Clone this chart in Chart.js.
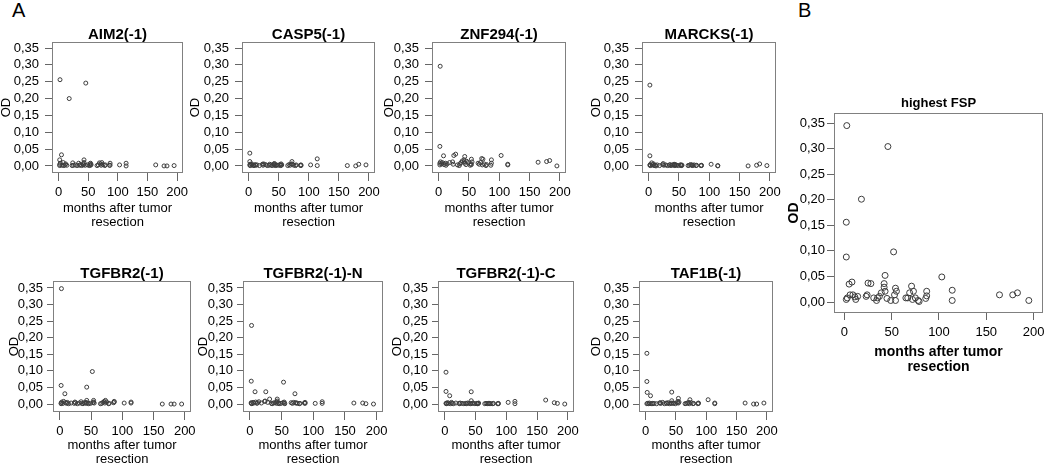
<!DOCTYPE html>
<html>
<head>
<meta charset="utf-8">
<script src="https://cdn.jsdelivr.net/npm/chart.js@4.4.0/dist/chart.umd.min.js"></script>
<style>
  html, body { margin: 0; padding: 0; background: #fff; overflow: hidden; }
  #wrap { position: relative; width: 1050px; height: 469px; font-family: "Liberation Sans", Arial, sans-serif; }
  #wrap canvas { position: absolute; }
  .lab { position: absolute; font-size: 20px; line-height: 1; color: #000; }
</style>
</head>
<body>
<div id="wrap">
  <div class="lab" style="left:12px;top:0px">A</div>
  <div class="lab" style="left:798px;top:0px">B</div>
</div>
<script>
// months after resection, one per patient (same order in every panel)
const months = [2, 2, 2, 2.5, 3, 5, 6, 8, 9, 11,
  12, 14, 18, 23, 24, 25, 28, 31, 34, 35,
  37, 39, 42, 42, 43, 43, 45, 46, 49, 52,
  53, 54, 54, 55, 65, 67, 69, 71, 72, 73,
  75, 78, 79, 86, 87, 87, 103, 114, 114, 164,
  178, 183, 195];

const aim2 = [0.018, 0.004, 0.001, 0.256, 0.008, 0.033, 0.002, 0.010, 0.001, 0.003,
  0.006, 0.002, 0.200, 0.001, 0.009, 0.002, 0.003, 0.001, 0.008, 0.002,
  0.004, 0.001, 0.006, 0.003, 0.018, 0.010, 0.002, 0.246, 0.003, 0.001,
  0.006, 0.008, 0.002, 0.004, 0.001, 0.003, 0.009, 0.006, 0.002, 0.010,
  0.004, 0.001, 0.003, 0.002, 0.008, 0.002, 0.003, 0.008, 0.000, 0.003,
  0.000, 0.000, 0.001];

const casp5 = [0.038, 0.013, 0.002, 0.005, 0.001, 0.006, 0.003, 0.002, 0.001, 0.004,
  0.002, 0.003, 0.001, 0.005, 0.002, 0.006, 0.004, 0.001, 0.002, 0.005,
  0.003, 0.001, 0.004, 0.006, 0.002, 0.007, 0.001, 0.003, 0.002, 0.004,
  0.001, 0.006, 0.002, 0.003, 0.001, 0.004, 0.002, 0.006, 0.013, 0.005,
  0.002, 0.001, 0.003, 0.002, 0.001, 0.003, 0.003, 0.021, 0.001, 0.001,
  0.000, 0.005, 0.003];

const znf294 = [0.058, 0.008, 0.003, 0.296, 0.012, 0.006, 0.010, 0.030, 0.004, 0.008,
  0.002, 0.006, 0.010, 0.012, 0.005, 0.031, 0.035, 0.003, 0.001, 0.006,
  0.010, 0.015, 0.012, 0.018, 0.028, 0.008, 0.004, 0.014, 0.010, 0.002,
  0.006, 0.020, 0.004, 0.012, 0.008, 0.005, 0.010, 0.022, 0.003, 0.020,
  0.006, 0.001, 0.004, 0.002, 0.018, 0.008, 0.031, 0.005, 0.003, 0.011,
  0.013, 0.016, 0.000];

const marcks = [0.240, 0.030, 0.002, 0.004, 0.001, 0.009, 0.003, 0.006, 0.001, 0.002,
  0.000, 0.003, 0.001, 0.004, 0.007, 0.002, 0.003, 0.001, 0.002, 0.004,
  0.001, 0.003, 0.005, 0.002, 0.004, 0.001, 0.003, 0.002, 0.001, 0.003,
  0.002, 0.001, 0.003, 0.002, 0.001, 0.002, 0.004, 0.003, 0.001, 0.002,
  0.003, 0.001, 0.002, 0.001, 0.002, 0.001, 0.005, 0.001, 0.000, 0.000,
  0.002, 0.006, 0.001];

const tgfbr2 = [0.056, 0.003, 0.001, 0.348, 0.006, 0.002, 0.008, 0.031, 0.004, 0.002,
  0.005, 0.001, 0.003, 0.002, 0.006, 0.004, 0.001, 0.003, 0.007, 0.002,
  0.001, 0.004, 0.005, 0.002, 0.051, 0.011, 0.003, 0.001, 0.002, 0.098,
  0.004, 0.006, 0.011, 0.003, 0.001, 0.002, 0.005, 0.008, 0.003, 0.011,
  0.006, 0.001, 0.002, 0.004, 0.006, 0.008, 0.003, 0.006, 0.003, 0.000,
  0.000, 0.000, 0.000];

const tgfbr2N = [0.069, 0.002, 0.004, 0.237, 0.001, 0.005, 0.003, 0.037, 0.006, 0.002,
  0.004, 0.007, 0.003, 0.008, 0.009, 0.037, 0.005, 0.015, 0.002, 0.001,
  0.003, 0.004, 0.006, 0.002, 0.015, 0.009, 0.003, 0.001, 0.002, 0.004,
  0.066, 0.006, 0.003, 0.001, 0.004, 0.002, 0.005, 0.031, 0.003, 0.004,
  0.002, 0.001, 0.002, 0.003, 0.005, 0.002, 0.002, 0.007, 0.002, 0.003,
  0.003, 0.001, 0.000];

const tgfbr2C = [0.096, 0.038, 0.002, 0.001, 0.003, 0.004, 0.002, 0.025, 0.001, 0.005,
  0.002, 0.001, 0.003, 0.002, 0.001, 0.003, 0.002, 0.001, 0.002, 0.001,
  0.003, 0.002, 0.001, 0.002, 0.037, 0.010, 0.002, 0.003, 0.001, 0.002,
  0.001, 0.002, 0.001, 0.003, 0.001, 0.002, 0.001, 0.002, 0.001, 0.002,
  0.001, 0.001, 0.002, 0.001, 0.002, 0.001, 0.005, 0.008, 0.001, 0.012,
  0.004, 0.002, 0.000];

const taf1b = [0.153, 0.068, 0.001, 0.035, 0.002, 0.001, 0.003, 0.025, 0.001, 0.002,
  0.001, 0.002, 0.001, 0.003, 0.004, 0.002, 0.005, 0.001, 0.003, 0.002,
  0.004, 0.001, 0.003, 0.002, 0.036, 0.010, 0.003, 0.002, 0.001, 0.004,
  0.008, 0.017, 0.003, 0.006, 0.001, 0.002, 0.003, 0.005, 0.001, 0.013,
  0.004, 0.001, 0.002, 0.001, 0.003, 0.002, 0.013, 0.003, 0.001, 0.003,
  0.000, 0.000, 0.003];

const highestFSP = [0.156, 0.088, 0.005, 0.345, 0.008, 0.035, 0.014, 0.039, 0.014, 0.010,
  0.005, 0.011, 0.201, 0.011, 0.014, 0.037, 0.036, 0.008, 0.003, 0.008,
  0.011, 0.018, 0.036, 0.029, 0.052, 0.021, 0.007, 0.304, 0.003, 0.098,
  0.014, 0.027, 0.003, 0.021, 0.008, 0.008, 0.018, 0.031, 0.005, 0.021,
  0.008, 0.003, 0.001, 0.007, 0.021, 0.012, 0.049, 0.023, 0.003, 0.014,
  0.014, 0.018, 0.003];

const xTicks = [0, 50, 100, 150, 200];
const yTicks = [0, 0.05, 0.10, 0.15, 0.20, 0.25, 0.30, 0.35];

const F = '"Liberation Sans", Arial, sans-serif';
Chart.defaults.font.family = F;

// grey frame round the plot area, like the SPSS output
const frame = {
  id: 'frame',
  beforeDatasetsDraw(chart) {
    const { ctx, chartArea: a } = chart;
    ctx.save();
    ctx.strokeStyle = '#808080';
    ctx.lineWidth = 1;
    ctx.strokeRect(Math.round(a.left) + 0.5, Math.round(a.top) + 0.5,
      Math.round(a.width) - 1, Math.round(a.height) - 1);
    ctx.restore();
  }
};

const row1 = { titleSize: 15, titleGap: 0, xH: 56, xTl: 8, xPad: 4, yTl: 7, yPad: 6,
  axSize: 13, axBold: false, axLH: 14 / 13, padR: 12, yMin: -0.021, yMax: 0.368, r: 2 };
const row2 = Object.assign({}, row1, { xH: 54, yTl: 6, yPad: 4, yMin: -0.024, yMax: 0.371 });
const big = { titleSize: 13, titleGap: 3, xH: 62, xTl: 7, xPad: 5, yTl: 7, yPad: 2,
  axSize: 14, axBold: true, axLH: 15 / 14, padR: 7, yMin: -0.0215, yMax: 0.3696, r: 3 };

const panels = [
  { title: 'AIM2(-1)', od: aim2, cl: 0, box: [52, 42, 131, 131], s: row1 },
  { title: 'CASP5(-1)', od: casp5, cl: 189, box: [242, 42, 133, 131], s: row1 },
  { title: 'ZNF294(-1)', od: znf294, cl: 383, box: [432, 42, 134, 131], s: row1 },
  { title: 'MARCKS(-1)', od: marcks, cl: 590, box: [642, 42, 134, 131], s: row1 },
  { title: 'TGFBR2(-1)', od: tgfbr2, cl: 8, box: [53, 281, 138, 131], s: row2 },
  { title: 'TGFBR2(-1)-N', od: tgfbr2N, cl: 197, box: [243, 281, 140, 131], s: row2 },
  { title: 'TGFBR2(-1)-C', od: tgfbr2C, cl: 391, box: [438, 281, 136, 131], s: row2 },
  { title: 'TAF1B(-1)', od: taf1b, cl: 590, box: [639, 281, 134, 131], s: row2 },
  { title: 'highest FSP', od: highestFSP, cl: 787, box: [834, 113, 209, 200], s: big }
];

const wrap = document.getElementById('wrap');

panels.forEach(p => {
  const s = p.s;
  const [bl, bt, bw, bh] = p.box;
  const yW = bl - p.cl;
  const titleH = s.titleSize + s.titleGap;
  const cv = document.createElement('canvas');
  cv.width = yW + bw + s.padR;
  cv.height = titleH + bh + s.xH;
  cv.style.left = p.cl + 'px';
  cv.style.top = (bt - titleH) + 'px';
  wrap.appendChild(cv);

  const axFont = { family: F, size: s.axSize, weight: s.axBold ? 'bold' : 'normal', lineHeight: s.axLH };

  new Chart(cv, {
    type: 'scatter',
    data: {
      datasets: [{
        data: months.map((m, i) => ({ x: m, y: p.od[i] })),
        pointRadius: s.r,
        pointHoverRadius: s.r,
        pointBorderWidth: 1,
        borderColor: '#3c3c3c',
        backgroundColor: 'rgba(0,0,0,0)'
      }]
    },
    options: {
      responsive: false,
      animation: false,
      events: [],
      layout: { padding: { left: 0, top: 0, right: s.padR, bottom: 0 } },
      plugins: {
        legend: { display: false },
        tooltip: { enabled: false },
        title: {
          display: true, text: p.title, fullSize: false, color: '#000',
          font: { family: F, size: s.titleSize, weight: 'bold', lineHeight: 1 },
          padding: { top: 0, bottom: s.titleGap }
        }
      },
      scales: {
        x: {
          type: 'linear', min: -11, max: 210,
          afterFit: sc => { sc.height = s.xH; },
          afterBuildTicks: sc => { sc.ticks = xTicks.map(v => ({ value: v })); },
          grid: { drawOnChartArea: false, drawTicks: true, tickLength: s.xTl, color: '#666' },
          border: { display: false },
          ticks: { padding: s.xPad, color: '#000', maxRotation: 0, autoSkip: false,
            font: { family: F, size: 13 }, callback: v => String(v) },
          title: { display: true, text: ['months after tumor', 'resection'], color: '#000',
            font: axFont, padding: 0 }
        },
        y: {
          type: 'linear', min: s.yMin, max: s.yMax,
          afterFit: sc => { sc.width = yW; },
          afterBuildTicks: sc => { sc.ticks = yTicks.map(v => ({ value: v })); },
          grid: { drawOnChartArea: false, drawTicks: true, tickLength: s.yTl, color: '#666' },
          border: { display: false },
          ticks: { padding: s.yPad, color: '#000', autoSkip: false,
            font: { family: F, size: 13 }, callback: v => v.toFixed(2).replace('.', ',') },
          title: { display: true, text: 'OD', color: '#000',
            font: { family: F, size: s.axSize, weight: s.axBold ? 'bold' : 'normal', lineHeight: 1 }, padding: 0 }
        }
      }
    },
    plugins: [frame]
  });
});
</script>
</body>
</html>
